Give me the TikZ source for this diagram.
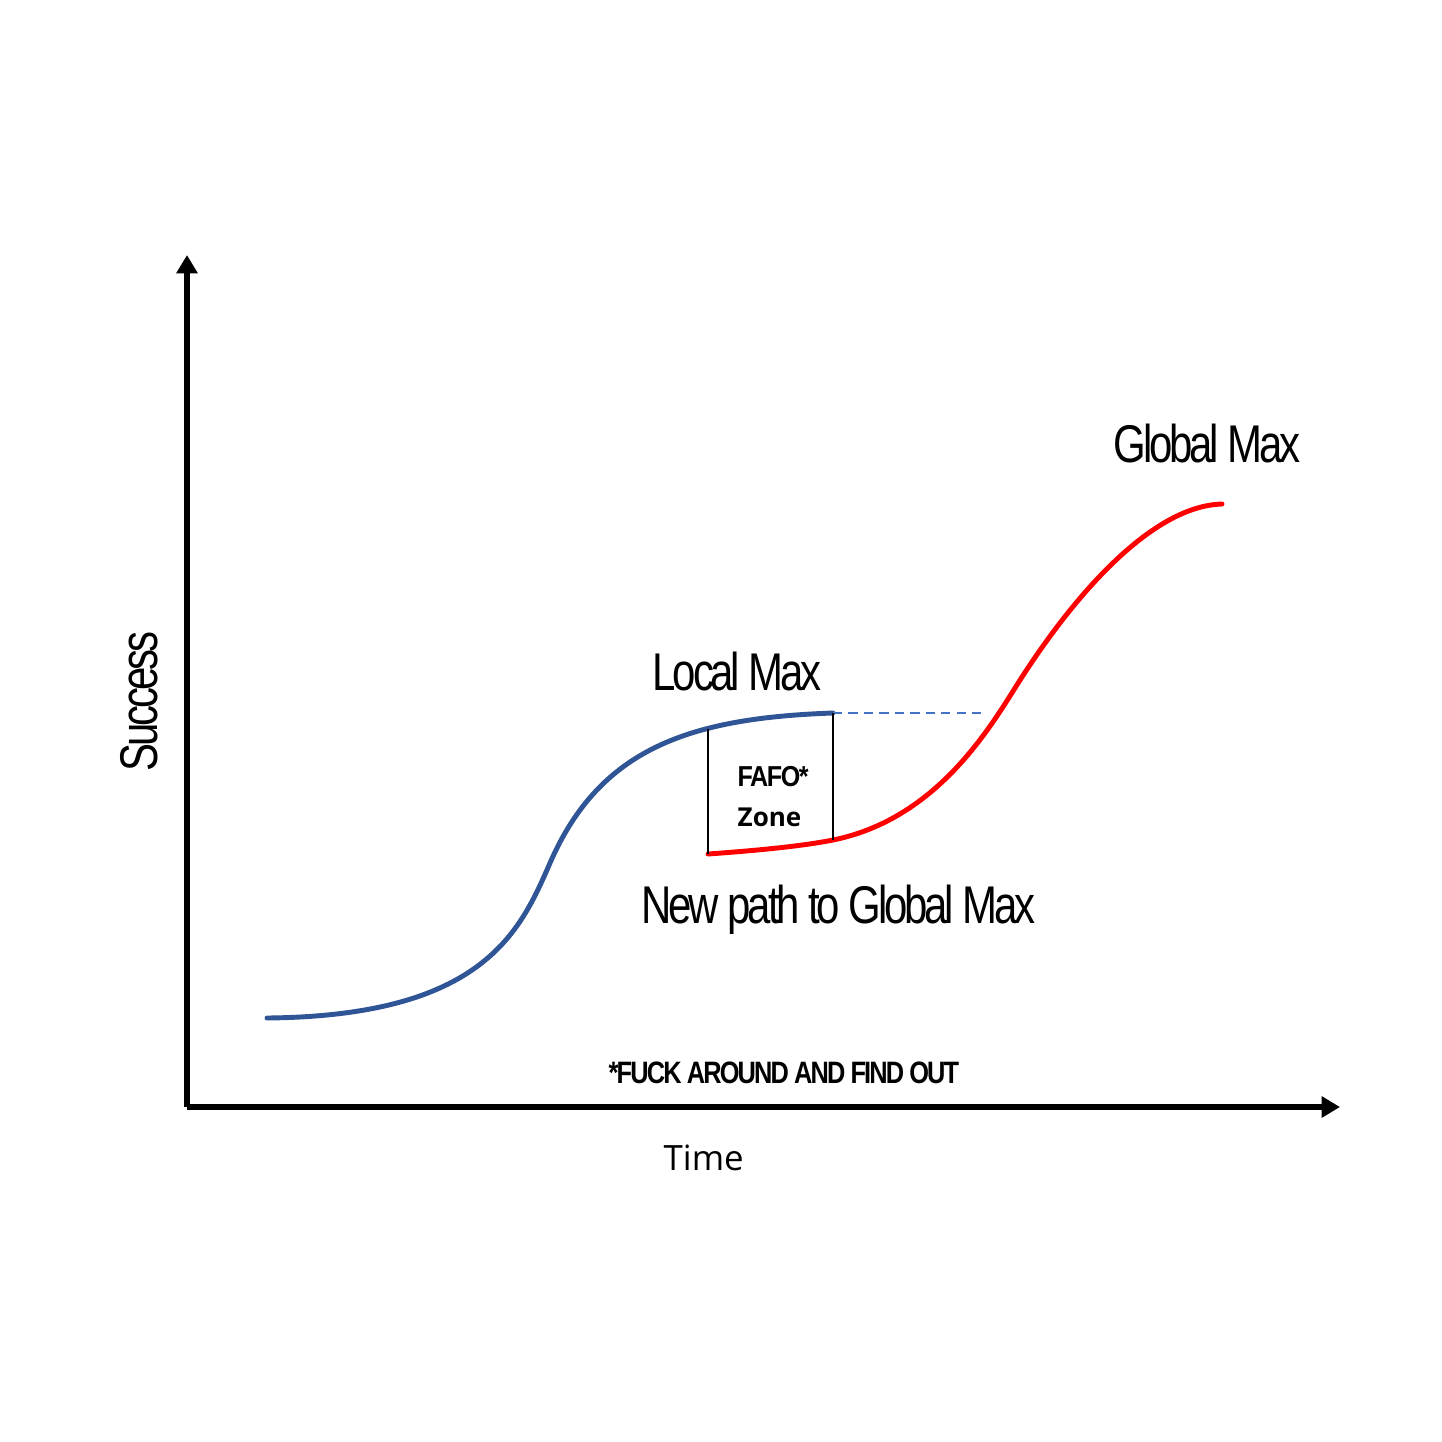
\documentclass[tikz,border=0pt]{standalone}
\usepackage{fontspec}
\setmainfont{Liberation Sans}
\newfontfamily\narrowfont[FakeStretch=0.79,LetterSpace=-6]{Liberation Sans}
\newfontfamily\boldnarrow[FakeStretch=0.82,LetterSpace=-6]{Liberation Sans Bold}
\newfontfamily\fafofont[FakeStretch=0.87,LetterSpace=-5]{Liberation Sans Bold}
\newfontfamily\osfont{Open Sans}
\newfontfamily\osbold{Open Sans Bold}
\usetikzlibrary{arrows.meta}
\definecolor{curveblue}{HTML}{2F5597}
\definecolor{dashblue}{HTML}{4472C4}
\definecolor{curvered}{HTML}{FF0000}
\tikzset{
  axisline/.style={line width=1.75pt,-{Triangle[length=5.2pt,width=5.8pt]}},
  bluecurve/.style={curveblue,line width=1.4pt,line cap=round},
  redcurve/.style={curvered,line width=1.4pt,line cap=round},
  dashline/.style={dashblue,line width=0.7pt,dash pattern=on 2.6pt off 1.8pt},
  zoneline/.style={black,line width=0.45pt},
  lbl/.style={inner sep=0pt,anchor=base west},
  bigtxt/.style={font=\narrowfont\fontsize{15.1pt}{18pt}\selectfont},
}
\begin{document}
\begin{tikzpicture}[x=0.01cm,y=-0.01cm]
\useasboundingbox[fill=white] (0,0) rectangle (1442,1442);
% axes
\coordinate (o) at (187,1107);
\coordinate (ytip) at (187,255);
\coordinate (xtip) at (1340,1107);
\draw[axisline] (o) -- (ytip);
\draw[axisline] (o) -- (xtip);
% key points
\coordinate (bstart) at (267,1018);
\coordinate (binf) at (550,863);
\coordinate (lmax) at (833,713);
\coordinate (zoneL) at (708,729);
\coordinate (rstart) at (708,854);
\coordinate (zoneR) at (833,840);
\coordinate (rinf) at (1015,688);
\coordinate (gmax) at (1222,504);
\coordinate (dashend) at (981,713);
% blue curve
\draw[bluecurve] (bstart) .. controls (483,1016) and (520,932) .. (binf)
  .. controls (600,748) and (690,718) .. (lmax);
% red curve
\draw[redcurve] (rstart) .. controls (750,851) and (800,846.6) .. (zoneR)
  .. controls (932,820) and (985,736) .. (rinf)
  .. controls (1070,600) and (1150,506) .. (gmax);
% dashed
\draw[dashline] (lmax) -- (dashend);
% FAFO zone sides
\draw[zoneline] (zoneL) -- (rstart);
\draw[zoneline] (lmax) -- (zoneR);
% labels
\node[lbl,bigtxt] (llocal) at (652,690) {Local Max};
\node[lbl,bigtxt] (lglobal) at (1113,462) {Global Max};
\node[lbl,bigtxt] (lnew) at (641,923) {New path to Global Max};
\node[lbl,bigtxt,rotate=90] (lsuccess) at (157,772) {Success};
\node[lbl,font=\fafofont\fontsize{8.2pt}{10pt}\selectfont] (lfafo) at (737,786) {FAFO*};
\node[lbl,font=\osbold\fontsize{7.4pt}{9pt}\selectfont] (lzone) at (737,826) {Zone};
\node[lbl,font=\boldnarrow\fontsize{8.8pt}{10pt}\selectfont] (lfuck) at (608,1083) {*FUCK AROUND AND FIND OUT};
\node[lbl,font=\osfont\fontsize{9.9pt}{12pt}\selectfont] (ltime) at (663,1170) {Time};
\end{tikzpicture}
\end{document}
